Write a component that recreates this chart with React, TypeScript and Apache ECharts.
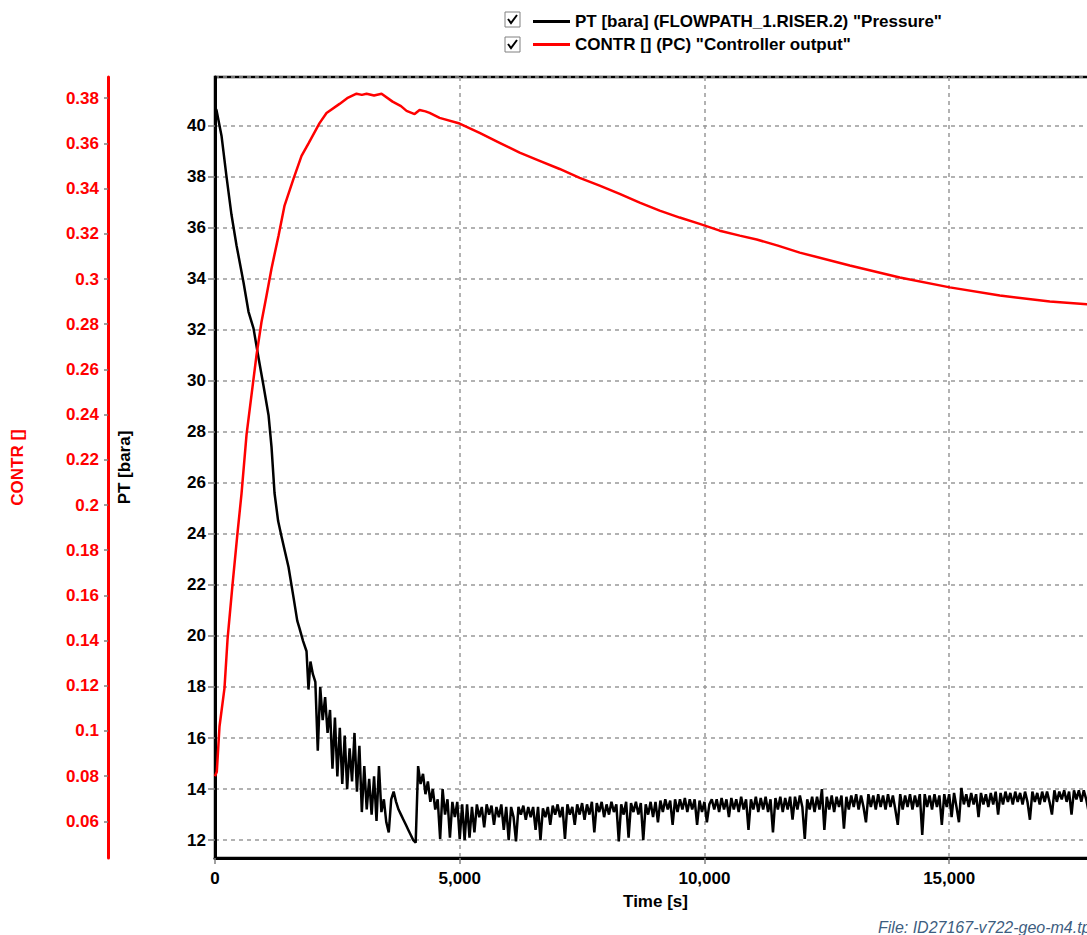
import React, { useEffect, useRef } from "react";
import * as echarts from "echarts";

// ---- Data ----
const seriesNames = [
  'PT [bara] (FLOWPATH_1.RISER.2) "Pressure"',
  'CONTR [] (PC) "Controller output"',
];

// Pressure, early descent: [time s, bara]
const pressureEarly: [number, number][] = [
  [0, 40.7], [31, 40.6], [133, 39.6], [235, 38.0], [337, 36.5], [440, 35.3],
  [583, 33.85], [685, 32.7], [787, 32.05], [889, 30.9], [991, 29.8], [1094, 28.65],
  [1155, 27.4], [1216, 25.6], [1290, 24.5], [1359, 23.9], [1430, 23.3], [1502, 22.7],
  [1605, 21.5], [1680, 20.6], [1727, 20.3], [1800, 19.8], [1870, 19.4], [1910, 17.9],
  [1950, 19.0],
];

// Pressure, noisy part: samples every NOISY_DT seconds starting at NOISY_T0
const NOISY_T0 = 2000;
const NOISY_DT = 50;
const pressureNoisy: number[] = [
  // 2000-2950
  18.5, 18.2, 15.5, 18.0, 16.7, 17.6, 16.2, 17.1, 14.8, 16.8,
  14.5, 16.4, 14.2, 16.1, 14.0, 15.6, 14.3, 16.2, 13.9, 15.7,
  // 3000-3950
  13.1, 14.9, 13.2, 14.4, 13.0, 14.5, 12.75, 14.9, 13.1, 13.6,
  12.7, 12.3, 13.6, 13.9, 13.5, 13.2, 13.0, 12.8, 12.6, 12.4,
  // 4000-4950
  12.2, 12.0, 11.9, 14.9, 14.2, 14.6, 13.8, 14.3, 13.5, 14.0,
  13.2, 13.6, 12.05, 14.0, 13.0, 13.6, 12.1, 13.5, 12.9, 13.5,
  // 5000-5950
  12.05, 13.4, 12.0, 13.4, 12.1, 13.3, 12.3, 13.4, 12.9, 13.3,
  12.5, 13.4, 13.0, 13.35, 12.6, 13.3, 12.9, 13.4, 12.4, 13.3,
  // 6000-6950
  12.0, 13.3, 12.9, 11.95, 13.3, 13.0, 13.35, 12.8, 13.3, 12.9,
  13.3, 12.4, 13.3, 12.0, 13.25, 12.9, 13.3, 12.6, 13.35, 13.0,
  // 7000-7950
  13.4, 12.9, 13.3, 12.05, 13.4, 13.0, 13.3, 12.6, 13.4, 13.0,
  13.45, 12.8, 13.4, 13.0, 13.5, 12.3, 13.45, 13.1, 13.5, 12.9,
  // 8000-8950
  13.4, 13.0, 13.5, 13.1, 13.4, 11.95, 13.4, 13.0, 13.5, 12.1,
  13.45, 13.1, 13.5, 13.0, 13.45, 12.0, 13.4, 13.0, 13.5, 12.9,
  // 9000-9950
  13.5, 12.7, 13.55, 13.1, 13.6, 13.2, 13.55, 12.6, 13.6, 13.1,
  13.6, 13.2, 13.65, 13.1, 13.6, 13.2, 13.6, 12.6, 13.55, 13.1,
  // 10000-10950
  13.5, 12.7, 13.4, 13.6, 13.2, 13.6, 13.1, 13.65, 13.2, 13.6,
  12.9, 13.65, 13.2, 13.6, 13.1, 13.7, 13.2, 13.6, 12.4, 13.6,
  // 11000-11950
  13.2, 13.7, 13.1, 13.65, 13.2, 13.7, 13.1, 13.6, 12.3, 13.65,
  13.2, 13.7, 13.1, 13.65, 13.2, 13.7, 12.8, 13.7, 13.2, 13.75,
  // 12000-12950
  13.3, 12.05, 13.6, 13.2, 13.7, 13.1, 13.7, 13.2, 14.0, 12.4,
  13.7, 13.2, 13.75, 13.1, 13.7, 13.3, 13.75, 12.45, 13.7, 13.2,
  // 13000-13950
  13.75, 13.3, 13.8, 13.2, 13.75, 13.3, 12.7, 13.8, 13.3, 13.75,
  13.2, 13.8, 13.3, 13.75, 13.2, 13.8, 13.3, 13.75, 13.2, 12.6,
  // 14000-14950
  13.8, 13.2, 13.75, 13.3, 13.8, 13.2, 13.75, 13.3, 13.8, 12.2,
  13.8, 13.3, 13.75, 13.2, 13.8, 13.3, 13.75, 12.6, 13.8, 13.3,
  // 15000-15950
  13.8, 12.9, 13.85, 13.3, 12.7, 14.05, 13.4, 13.8, 13.3, 13.85,
  13.4, 13.8, 12.9, 13.85, 13.4, 13.8, 13.3, 13.85, 13.4, 13.9,
  // 16000-16950
  13.0, 13.85, 13.4, 13.9, 13.5, 13.85, 13.4, 13.9, 13.5, 13.85,
  13.4, 13.9, 13.5, 12.8, 13.9, 13.5, 13.85, 13.4, 13.9, 13.5,
  // 17000-18000
  13.9, 13.5, 13.0, 13.95, 13.5, 13.9, 13.6, 13.95, 13.5, 13.9,
  13.0, 13.95, 13.6, 13.95, 13.5, 13.95, 13.6, 13.1, 14.0, 13.6,
  13.95,
];

// Controller output: [time s, value]
const controller: [number, number][] = [
  [0, 0.080], [37, 0.082], [92, 0.102], [194, 0.119], [256, 0.1405], [358, 0.1648],
  [460, 0.1877], [542, 0.205], [644, 0.231], [746, 0.2487], [848, 0.2663], [950, 0.281],
  [1053, 0.2927], [1155, 0.3047], [1298, 0.3192], [1421, 0.3325], [1605, 0.3444],
  [1768, 0.3545], [1911, 0.360], [2136, 0.369], [2279, 0.3735], [2545, 0.3775],
  [2700, 0.380], [2892, 0.382], [3000, 0.3815], [3097, 0.382], [3250, 0.3812],
  [3403, 0.382], [3628, 0.3785], [3800, 0.3765], [3914, 0.3744], [4078, 0.373],
  [4180, 0.3748], [4300, 0.3742], [4384, 0.3735], [4589, 0.3713], [4998, 0.3688],
  [5406, 0.3647], [5815, 0.3603], [6224, 0.3559], [6633, 0.3523], [7042, 0.3487],
  [7450, 0.3448], [7859, 0.3413], [8268, 0.3377], [8677, 0.3338], [9085, 0.3303],
  [9494, 0.3272], [9903, 0.3244], [10312, 0.3214], [10721, 0.3192], [11068, 0.3175],
  [11500, 0.3148], [11947, 0.3117], [12969, 0.306], [13991, 0.3007], [15013, 0.2963],
  [16035, 0.2927], [17057, 0.2901], [18000, 0.2885],
];

const X_MIN = 0;
const X_MAX = 18000;
const X_INTERVAL = 5000;
const P_MIN = 11.3;
const P_MAX = 41.9;
const C_MIN = 0.0438;
const C_MAX = 0.3894;
const fileLabel = "File: ID27167-v722-geo-m4.tpl";

const FONT = "'Liberation Sans', Arial, sans-serif";

export default function App() {
  const ref = useRef<HTMLDivElement>(null);

  useEffect(() => {
    if (!ref.current) return;
    const chart = echarts.init(ref.current, null, { renderer: "svg" });

    const pressureData: [number, number][] = pressureEarly.concat(
      pressureNoisy.map((v, i) => [NOISY_T0 + i * NOISY_DT, v] as [number, number])
    );

    const gridDash = { type: [4, 4] as any, color: "#999", width: 1.5 };
    const labelStyle = { fontFamily: FONT, fontWeight: "bold" as const, fontSize: 17 };

    const box = (y: number) => [
      {
        type: "rect",
        shape: { x: 505, y, width: 15, height: 15 },
        style: { fill: "#fff", stroke: "#808080", lineWidth: 1 },
      },
      {
        type: "polyline",
        shape: { points: [[508, y + 7], [511, y + 11], [517, y + 3]] },
        style: { stroke: "#000", lineWidth: 2, fill: null },
      },
    ];

    chart.setOption({
      animation: false,
      backgroundColor: "#fff",
      grid: {
        left: 215,
        top: 77,
        right: 14,
        bottom: 77,
        show: true,
        borderColor: "#000",
        borderWidth: 2.5,
      },
      legend: {
        orient: "vertical",
        left: 528,
        top: 8,
        itemWidth: 37,
        itemHeight: 3,
        itemGap: 6,
        icon: "rect",
        selectedMode: false,
        data: seriesNames,
        textStyle: { ...labelStyle, color: "#000", padding: [0, 0, 0, 0] },
      },
      xAxis: {
        type: "value",
        min: X_MIN,
        max: X_MAX,
        interval: X_INTERVAL,
        name: "Time [s]",
        nameLocation: "middle",
        nameGap: 35,
        nameTextStyle: { ...labelStyle, color: "#000" },
        axisLine: { show: true, lineStyle: { color: "#000", width: 3 } },
        axisTick: { show: true, length: 6, lineStyle: { color: "#808080", width: 1.5 } },
        axisLabel: {
          ...labelStyle,
          color: "#000",
          margin: 12,
          showMaxLabel: false,
          formatter: (v: number) => v.toLocaleString("en-US"),
        },
        splitLine: { show: true, lineStyle: gridDash },
      },
      yAxis: [
        {
          type: "value",
          position: "left",
          min: P_MIN,
          max: P_MAX,
          splitNumber: 15,
          name: "PT [bara]",
          nameLocation: "middle",
          nameGap: 82,
          nameRotate: 90,
          nameTextStyle: { ...labelStyle, color: "#000" },
          axisLine: { show: true, lineStyle: { color: "#000", width: 3 } },
          axisTick: { show: true, length: 7, lineStyle: { color: "#808080", width: 1.5 } },
          axisLabel: { ...labelStyle, color: "#000", margin: 9, showMinLabel: false, showMaxLabel: false },
          splitLine: { show: true, lineStyle: gridDash },
        },
        {
          type: "value",
          position: "left",
          offset: 107,
          min: C_MIN,
          max: C_MAX,
          splitNumber: 17,
          name: "CONTR []",
          nameLocation: "middle",
          nameGap: 82,
          nameRotate: 90,
          nameTextStyle: { ...labelStyle, color: "#ff0000" },
          axisLine: { show: true, lineStyle: { color: "#ff0000", width: 3 } },
          axisTick: { show: true, length: 4, lineStyle: { color: "#808080", width: 1.5 } },
          axisLabel: { ...labelStyle, color: "#ff0000", margin: 9, showMinLabel: false, showMaxLabel: false },
          splitLine: { show: false },
        },
      ],
      series: [
        {
          name: seriesNames[0],
          type: "line",
          yAxisIndex: 0,
          data: pressureData,
          showSymbol: false,
          color: "#000",
          lineStyle: { color: "#000", width: 2.5 },
        },
        {
          name: seriesNames[1],
          type: "line",
          yAxisIndex: 1,
          data: controller,
          showSymbol: false,
          color: "#ff0000",
          lineStyle: { color: "#ff0000", width: 2.5 },
        },
      ],
      graphic: [
        ...box(12),
        ...box(37),
        {
          type: "text",
          left: 878,
          top: 919,
          style: {
            text: fileLabel,
            fontFamily: FONT,
            fontStyle: "italic",
            fontSize: 16,
            fill: "#3d5d80",
          },
        },
      ],
    });

    return () => chart.dispose();
  }, []);

  return (
    <div
      style={{
        position: "fixed",
        left: 0,
        top: 0,
        width: 1087,
        height: 935,
        overflow: "hidden",
        background: "#fff",
      }}
    >
      <div ref={ref} style={{ width: 1110, height: 935 }} />
    </div>
  );
}
